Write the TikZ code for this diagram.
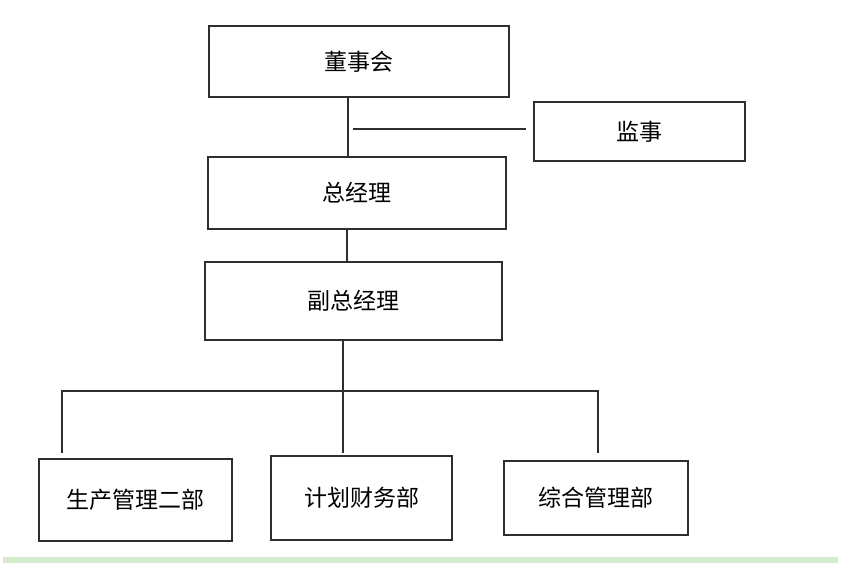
\documentclass[tikz,border=0pt]{standalone}
\usepackage{fontspec}
\setmainfont{Noto Sans CJK SC}
\usetikzlibrary{calc}
\definecolor{ink}{HTML}{2E2E2E}
\definecolor{band}{HTML}{D3EACF}

\begin{document}
\begin{tikzpicture}[
  x=1pt, y=-1pt,
  font=\fontsize{23}{26}\selectfont, text=black,
  unit/.style={draw=ink,line width=1.5pt,fill=white,inner sep=0pt,align=center},
  link/.style={draw=ink,line width=1.5pt},
]
\useasboundingbox[fill=white] (0,0) rectangle (841,565);
\fill[band] (3,557) rectangle (838,563);

\node[unit,minimum width=300pt,minimum height=71pt] (board) at (359,61.5) {董事会};
\node[unit,minimum width=211pt,minimum height=59pt] (supervisor) at (639.5,131.5) {监事};
\node[unit,minimum width=298pt,minimum height=72pt] (gm) at (357,193) {总经理};
\node[unit,minimum width=297pt,minimum height=78pt] (vgm) at (353.5,301) {副总经理};

\foreach \x/\y/\w/\h/\id/\title in {
135.5/500/193/82/prod/生产管理二部,
361.5/498/181/84/fin/计划财务部,
596/498/184/74/admin/综合管理部}
  \node[unit,minimum width=\w pt,minimum height=\h pt] (\id) at (\x,\y) {\title};

\coordinate (spine) at (348,129);
\draw[link] (board.south -| spine) -- (gm.north -| spine);
\draw[link] ([xshift=5pt]spine) -- ([xshift=-7pt]supervisor.west |- spine);
\draw[link] (gm.south -| 347,0) -- (vgm.north -| 347,0);

\coordinate (busL) at (62,391);
\coordinate (busR) at (598,391);
\coordinate (tips) at (0,453);
\draw[link] (tips -| busL) |- (busR) -- (tips -| busR);
\draw[link] (vgm.south -| 343,0) -- (tips -| 343,0);
\end{tikzpicture}
\end{document}
